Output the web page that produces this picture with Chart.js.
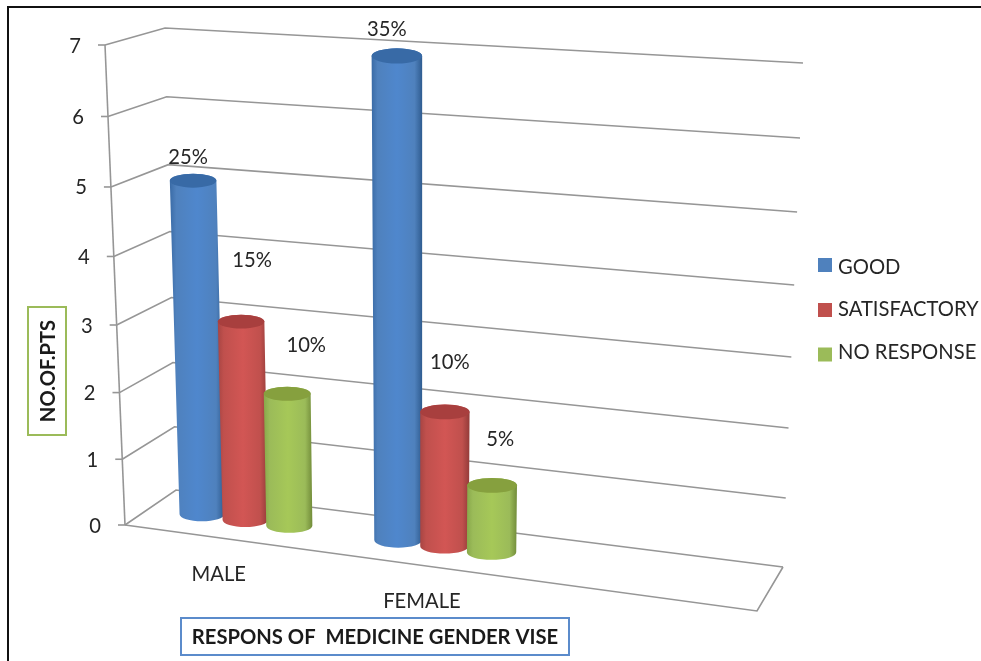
<!DOCTYPE html>
<html>
<head>
<meta charset="utf-8">
<title>Response of medicine, gender wise</title>
<script src="https://cdn.jsdelivr.net/npm/chart.js@4"></script>
<style>
  html, body { margin: 0; background: #fff; overflow: hidden; }
  #frame { position: absolute; left: 7px; top: 6px; right: 0; bottom: 0; border-left: 2px solid #111; border-top: 2px solid #111; }
  #responseChart { position: absolute; left: 0; top: 0; }
</style>
</head>
<body>
<div id="frame"></div>
<canvas id="responseChart" width="981" height="661"></canvas>
<script>
// Chart data (third category is the empty slot on the right of the floor)
const categories = ['MALE', 'FEMALE', ''];
const goodValues = [5, 7, null];
const satisfactoryValues = [3, 2, null];
const noResponseValues = [2, 1, null];
const seriesNames = ['GOOD', 'SATISFACTORY', 'NO RESPONSE'];
const yMax = 7;

const FONT = 'Lato, sans-serif';
const TEXT_SIZE = '20.2px ';
const TEXT = '#262626';
const GRID = '#969696';

// Cylinder shading: legend colour, dark edge, light centre, far right edge, cap
const shades = [
  { base: '#4f81bd', edge: '#3a6ba6', mid: '#4f87cd', far: '#2f5c90', cap: '#386aa6' },
  { base: '#c0504d', edge: '#a84543', mid: '#d25654', far: '#933b39', cap: '#a83f3e' },
  { base: '#9bbb59', edge: '#88a84a', mid: '#a6c858', far: '#728c3a', cap: '#86a03e' }
];

// Corners of the 3D box on screen: front and back planes
const box = {
  frontBottom: [[125, 525], [757, 611]],
  frontTop: [[105, 45], [777, 107]],
  backBottom: [[176, 490], [783, 567]],
  backTop: [[165, 28], [803, 63]]
};

// Perspective squeeze along width and height
const WIDTH_SQUEEZE = 1.107;
const HEIGHT_SQUEEZE = 1.05;
const BAR_DEPTH = 0.5;

// Hand placed percentage labels, relative to the top of each cylinder
const labelOffsets = [
  [[-5, -23], [11, -61], [19, -48]],
  [[-10, -26], [5, -49], [8, -46]]
];

const lerp = (a, b, t) => a + (b - a) * t;
const squeeze = (t, k) => t / (t + k * (1 - t));

/**
 * Project a position in the box (width, height, depth, all 0-1) to the screen
 */
function project(u, v, d) {
  const su = squeeze(u, WIDTH_SQUEEZE);
  const sv = squeeze(v, HEIGHT_SQUEEZE);
  const point = axis => {
    const bottom = lerp(lerp(box.frontBottom[0][axis], box.frontBottom[1][axis], su),
      lerp(box.backBottom[0][axis], box.backBottom[1][axis], su), d);
    const top = lerp(lerp(box.frontTop[0][axis], box.frontTop[1][axis], su),
      lerp(box.backTop[0][axis], box.backTop[1][axis], su), d);
    return lerp(bottom, top, sv);
  };
  return { x: point(0), y: point(1) };
}

function polyline(ctx, points) {
  ctx.beginPath();
  points.forEach((p, i) => (i ? ctx.lineTo(p.x, p.y) : ctx.moveTo(p.x, p.y)));
  ctx.stroke();
}

/**
 * Walls, floor, value axis and its tick labels
 */
function drawWalls(chart) {
  const { ctx } = chart;
  const yScale = chart.scales.y;
  ctx.save();
  ctx.strokeStyle = GRID;
  ctx.lineWidth = 1.6;
  ctx.font = TEXT_SIZE + FONT;
  ctx.fillStyle = TEXT;
  ctx.textAlign = 'right';
  ctx.textBaseline = 'middle';

  yScale.ticks.forEach(tick => {
    const v = tick.value / yMax;
    const front = project(0, v, 0);
    polyline(ctx, [front, project(0, v, 1), project(1, v, 1)]);
    polyline(ctx, [{ x: front.x - 7, y: front.y }, front]);
    ctx.fillText(String(tick.value), front.x - 24, front.y + 1);
  });

  polyline(ctx, [project(0, 0, 0), project(0, 1, 0)]);
  polyline(ctx, [project(0, 0, 0), project(1, 0, 0), project(1, 0, 1)]);
  ctx.restore();
}

/**
 * One cylinder standing on the floor, from a bar element of the chart
 */
function drawCylinder(ctx, area, yScale, bar, shade) {
  const u = (bar.x - area.left) / area.width;
  const halfU = bar.width / 2 / area.width;
  const topV = yScale.getValueForPixel(bar.y) / yMax;
  const baseV = yScale.getValueForPixel(bar.base) / yMax;

  const top = project(u, topV, BAR_DEPTH);
  const base = project(u, baseV, BAR_DEPTH);
  const topRx = (project(u + halfU, topV, BAR_DEPTH).x - project(u - halfU, topV, BAR_DEPTH).x) / 2;
  const baseRx = (project(u + halfU, baseV, BAR_DEPTH).x - project(u - halfU, baseV, BAR_DEPTH).x) / 2;
  const ry = Math.max(topRx, baseRx) * 0.3;

  const left = Math.min(top.x - topRx, base.x - baseRx);
  const right = Math.max(top.x + topRx, base.x + baseRx);
  const gradient = ctx.createLinearGradient(left, 0, right, 0);
  gradient.addColorStop(0, shade.edge);
  gradient.addColorStop(0.12, shade.base);
  gradient.addColorStop(0.5, shade.mid);
  gradient.addColorStop(0.85, shade.base);
  gradient.addColorStop(1, shade.far);

  ctx.beginPath();
  ctx.moveTo(top.x - topRx, top.y);
  ctx.lineTo(base.x - baseRx, base.y);
  ctx.ellipse(base.x, base.y, baseRx, ry, 0, Math.PI, 0, true);
  ctx.lineTo(top.x + topRx, top.y);
  ctx.ellipse(top.x, top.y, topRx, ry, 0, 0, Math.PI, true);
  ctx.closePath();
  ctx.fillStyle = gradient;
  ctx.fill();

  ctx.beginPath();
  ctx.ellipse(top.x, top.y, topRx, ry, 0, 0, Math.PI * 2);
  ctx.fillStyle = shade.cap;
  ctx.fill();

  return top;
}

function drawBoxedText(ctx, text, cx, cy, w, h, color, rotated) {
  ctx.save();
  ctx.translate(cx, cy);
  if (rotated) ctx.rotate(-Math.PI / 2);
  ctx.strokeStyle = color;
  ctx.lineWidth = 2;
  ctx.strokeRect(-w / 2, -h / 2, w, h);
  ctx.fillStyle = '#1a1a1a';
  ctx.font = 'bold ' + TEXT_SIZE + FONT;
  ctx.textAlign = 'center';
  ctx.textBaseline = 'middle';
  ctx.fillText(text, 0, 1);
  ctx.restore();
}

function drawLegend(chart) {
  const { ctx } = chart;
  const rows = [265, 310, 354.5];
  const textRows = [267, 309, 352];
  ctx.save();
  ctx.font = TEXT_SIZE + FONT;
  ctx.textAlign = 'left';
  ctx.textBaseline = 'middle';
  chart.data.datasets.forEach((dataset, i) => {
    ctx.fillStyle = dataset.backgroundColor;
    ctx.fillRect(818, rows[i] - 7, 14, 14);
    ctx.fillStyle = TEXT;
    ctx.fillText(dataset.label, 838, textRows[i]);
  });
  ctx.restore();
}

// Draws the bars as 3D cylinders instead of the flat rectangles
const cylinderPlugin = {
  id: 'cylinders',
  beforeDatasetsDraw(chart) {
    drawWalls(chart);
  },
  beforeDatasetDraw() {
    return false;
  },
  afterDatasetsDraw(chart) {
    const { ctx, chartArea, data } = chart;
    const yScale = chart.scales.y;
    const total = data.datasets.reduce((sum, ds) => sum + ds.data.reduce((s, val) => s + (val || 0), 0), 0);
    const labels = [];

    data.datasets.forEach((dataset, i) => {
      chart.getDatasetMeta(i).data.forEach((bar, j) => {
        if (dataset.data[j] === null) return;
        const top = drawCylinder(ctx, chartArea, yScale, bar, shades[i]);
        labels.push({
          text: Math.round(dataset.data[j] / total * 100) + '%',
          x: top.x + labelOffsets[j][i][0],
          y: top.y + labelOffsets[j][i][1]
        });
      });
    });

    ctx.save();
    ctx.font = TEXT_SIZE + FONT;
    ctx.fillStyle = TEXT;
    ctx.textAlign = 'center';
    ctx.textBaseline = 'middle';
    labels.forEach(label => ctx.fillText(label.text, label.x, label.y));

    // Category names under the front edge of the floor
    const xScale = chart.scales.x;
    data.labels.forEach((name, j) => {
      if (!name) return;
      const u = (xScale.getPixelForValue(j) - chartArea.left) / chartArea.width;
      const p = project(u, 0, 0);
      ctx.fillText(name, p.x - 3, p.y + 36);
    });
    ctx.restore();

    drawLegend(chart);
    drawBoxedText(ctx, 'NO.OF.PTS', 47, 371, 128, 38, '#9bbb59', true);
    drawBoxedText(ctx, 'RESPONS OF  MEDICINE GENDER VISE', 375, 636.5, 388, 37, '#5b8bcb', false);
  }
};

document.addEventListener('DOMContentLoaded', () => {
  const seriesValues = [goodValues, satisfactoryValues, noResponseValues];

  new Chart(document.getElementById('responseChart'), {
    type: 'bar',
    data: {
      labels: categories,
      datasets: seriesNames.map((name, i) => ({
        label: name,
        data: seriesValues[i],
        backgroundColor: shades[i].base
      }))
    },
    options: {
      responsive: false,
      animation: false,
      events: [],
      datasets: { bar: { categoryPercentage: 0.68, barPercentage: 1.04 } },
      plugins: {
        legend: { display: false },
        tooltip: { enabled: false }
      },
      scales: {
        x: { display: false },
        y: { display: false, min: 0, max: yMax, ticks: { stepSize: 1 } }
      }
    },
    plugins: [cylinderPlugin]
  });
});
</script>
</body>
</html>
